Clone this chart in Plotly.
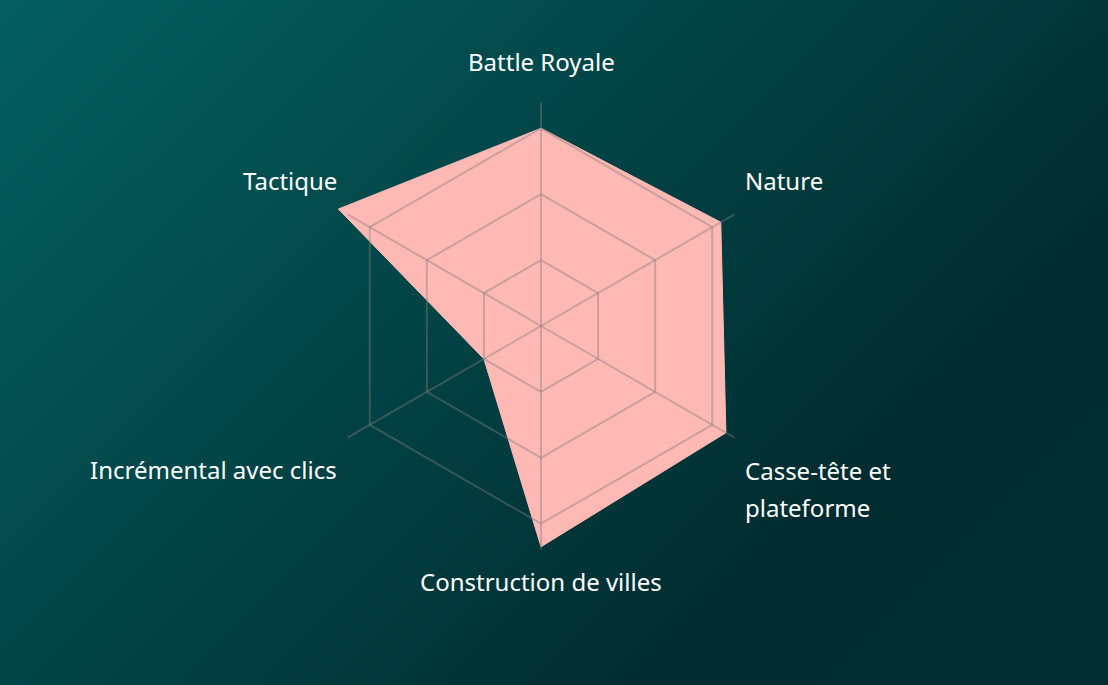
import base64, struct, zlib
import numpy as np
import plotly.graph_objects as go

# ---- data ----
categories = ["Battle Royale", "Nature", "Casse-tête et plateforme",
              "Construction de villes", "Incrémental avec clics", "Tactique"]
label_lines = [["Battle Royale"], ["Nature"], ["Casse-tête et", "plateforme"],
               ["Construction de villes"], ["Incrémental avec clics"], ["Tactique"]]
values = [3.0, 3.15, 3.24, 3.35, 1.0, 3.55]
ring_ticks = [1, 2, 3]
axis_max = 3.39

W, H = 1108, 685
CX, CY = 541, 326          # chart centre in px
PX_PER_UNIT = 65.9
R_MAX = 3.6                 # radial range (room for the longest value)
R_PX = R_MAX * PX_PER_UNIT


# ---- background gradient as an in-memory PNG ----
def make_png(arr):
    h, w, _ = arr.shape
    raw = b"".join(b"\x00" + arr[i].tobytes() for i in range(h))
    def chunk(tag, data):
        c = tag + data
        return struct.pack(">I", len(data)) + c + struct.pack(">I", zlib.crc32(c) & 0xffffffff)
    return (b"\x89PNG\r\n\x1a\n" + chunk(b"IHDR", struct.pack(">IIBBBBB", w, h, 8, 2, 0, 0, 0))
            + chunk(b"IDAT", zlib.compress(raw, 9)) + chunk(b"IEND", b""))

gw, gh = 277, 171
xs = np.linspace(0, W, gw)[None, :]
ys = np.linspace(0, H, gh)[:, None]
t = (xs + ys) / (W + H)
stops_t = [0.0, 0.35, 0.75, 1.0]
stops_c = [(5, 96, 96), (3, 72, 74), (1, 45, 48), (2, 48, 50)]
img = np.zeros((gh, gw, 3), dtype=np.uint8)
for k in range(3):
    img[:, :, k] = np.interp(t, stops_t, [c[k] for c in stops_c]).astype(np.uint8)
bg_uri = "data:image/png;base64," + base64.b64encode(make_png(img)).decode()

grid_col = "rgba(128,124,124,0.42)"

fig = go.Figure()
fig.add_trace(go.Scatterpolar(
    r=values + [values[0]], theta=categories + [categories[0]],
    mode="lines", fill="toself",
    fillcolor="rgb(255,185,181)", line=dict(color="rgb(255,185,181)", width=1),
    hoverinfo="skip", showlegend=False))

# grid drawn above the fill: hexagonal rings and spokes
gr, gt = [], []
for v in ring_ticks:
    gr += [v] * (len(categories) + 1) + [None]
    gt += categories + [categories[0], None]
for c in categories:
    gr += [0, axis_max, None]
    gt += [c, c, None]
fig.add_trace(go.Scatterpolar(r=gr, theta=gt, mode="lines",
                              line=dict(color=grid_col, width=2),
                              hoverinfo="skip", showlegend=False))

fig.update_layout(
    width=W, height=H,
    margin=dict(l=0, r=0, t=0, b=0),
    paper_bgcolor="#034648",
    images=[dict(source=bg_uri, xref="paper", yref="paper", x=0, y=1,
                 sizex=1, sizey=1, sizing="stretch", layer="below",
                 xanchor="left", yanchor="top")],
    polar=dict(
        domain=dict(x=[(CX - R_PX) / W, (CX + R_PX) / W],
                    y=[1 - (CY + R_PX) / H, 1 - (CY - R_PX) / H]),
        bgcolor="rgba(0,0,0,0)",
        gridshape="linear",
        radialaxis=dict(range=[0, R_MAX], showgrid=False, showticklabels=False,
                        showline=False, ticks=""),
        angularaxis=dict(type="category", categoryarray=categories, rotation=90,
                         direction="clockwise", showgrid=False, showline=False,
                         showticklabels=False, ticks=""),
    ),
)

# category labels
label_pos = [  # (x px, y px of first line, xanchor)
    (541, 61, "center"),
    (743, 180, "left"),
    (743, 470, "left"),
    (541, 581, "center"),
    (339, 469, "right"),
    (339, 180, "right"),
]
for lines, (x, y, xa) in zip(label_lines, label_pos):
    for i, line in enumerate(lines):
        fig.add_annotation(x=x / W, y=1 - (y + i * 37) / H, xref="paper", yref="paper",
                           text=line, showarrow=False, xanchor=xa, yanchor="middle",
                           font=dict(family="Noto Sans", size=24, color="white"))

fig.write_html("out.html", config={"displayModeBar": False},
               post_script="document.body.style.margin='0';document.body.style.overflow='hidden';")
